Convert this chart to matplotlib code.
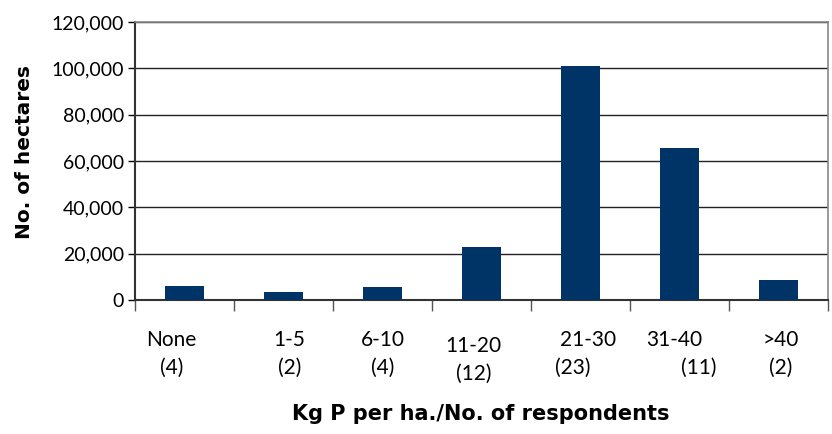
import numpy as np
import matplotlib.pyplot as plt
from matplotlib.ticker import FuncFormatter

# data
categories = ["None", "1-5", "6-10", "11-20", "21-30", "31-40", ">40"]
respondents = ["(4)", "(2)", "(4)", "(12)", "(23)", "(11)", "(2)"]
hectares = [6000, 3500, 5500, 23000, 101000, 65500, 8500]

plt.rcParams['font.family'] = ['Lato', 'DejaVu Sans']

fig = plt.figure(figsize=(8.32, 4.34), dpi=100)
ax = fig.add_axes([0.1623, 0.3088, 0.8327, 0.6405])

x = np.arange(len(categories))
ax.bar(x, hectares, width=0.4, color="#003366", zorder=3)

ax.set_xlim(-0.5, len(categories) - 0.5)
ax.set_ylim(0, 120000)
ax.set_yticks(np.arange(0, 120001, 20000))
ax.yaxis.set_major_formatter(FuncFormatter(lambda v, p: f"{int(v):,}"))
ax.grid(axis="y", color="#222222", linewidth=1.0, zorder=0)

# category boundary ticks
ax.set_xticks(np.arange(-0.5, len(categories), 1.0))
ax.set_xticklabels([])
ax.tick_params(axis="x", direction="out", length=8, width=1, color="#555555")
ax.tick_params(axis="y", direction="out", length=5, width=1, labelsize=14, pad=3)

for s in ["left", "bottom"]:
    ax.spines[s].set_color("#333333")
    ax.spines[s].set_linewidth(1.5)
for s in ["top", "right"]:
    ax.spines[s].set_color("#888888")
    ax.spines[s].set_linewidth(1.2)

# two-line category labels, slightly shifted like in the original
name_dx = [-0.13, 0.06, 0.0, -0.08, 0.08, -0.05, 0.02]
resp_dx = [-0.13, 0.06, 0.0, -0.08, -0.08, 0.2, 0.02]
name_dy = [0, 0, 0, 4, 0, 0, 0]
resp_dy = [0, 0, 0, 4, 0, 0, 0]
for i in range(len(categories)):
    ax.annotate(categories[i], xy=(x[i] + name_dx[i], 0), xycoords=("data", "axes fraction"),
                xytext=(0, -29 - name_dy[i]), textcoords="offset points",
                ha="center", va="center", fontsize=15)
    ax.annotate(respondents[i], xy=(x[i] + resp_dx[i], 0), xycoords=("data", "axes fraction"),
                xytext=(0, -49 - resp_dy[i]), textcoords="offset points",
                ha="center", va="center", fontsize=15)

fig.text(0.578, 0.047, "Kg P per ha./No. of respondents", ha="center", va="center",
         fontsize=15, fontweight="bold", family="DejaVu Sans")
fig.text(0.03, 0.65, "No. of hectares", ha="center", va="center", rotation=90,
         fontsize=14.5, fontweight="bold", family="DejaVu Sans")

fig.savefig("out.png", dpi=100)
